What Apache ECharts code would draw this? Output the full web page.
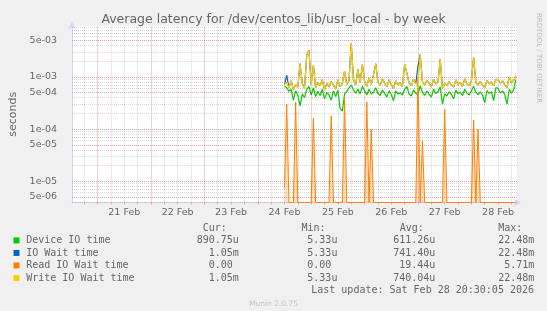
<!DOCTYPE html>
<html><head><meta charset="utf-8">
<script src="https://cdn.jsdelivr.net/npm/echarts@6/dist/echarts.min.js"></script>
<style>html,body{margin:0;padding:0;background:#F0F0F0;}#c{width:547px;height:311px;}</style>
</head><body><div id="c"></div>
<script>
// ---- data (hours counted from Feb 20 00:00) ----
const START_HOUR = 108;               // first sample: Feb 24 12:00, one sample per hour
const dayLabelHours = [36, 60, 84, 108, 132, 156, 180, 204];
const dayLabels = ['21 Feb', '22 Feb', '23 Feb', '24 Feb', '25 Feb', '26 Feb', '27 Feb', '28 Feb'];
const yLabelValues = [5e-3, 1e-3, 5e-4, 1e-4, 5e-5, 1e-5, 5e-6];
const yLabelTexts = ['5e-03', '1e-03', '5e-04', '1e-04', '5e-05', '1e-05', '5e-06'];

// values in microseconds
const deviceUs = [
 660,620,530,580,360,540,450,280,470,400,
 580,660,450,620,420,530,440,580,380,500,
 450,360,540,420,560,250,220,470,530,620,
 700,560,490,580,470,660,540,450,580,470,
 510,620,480,440,560,490,410,540,460,350,
 540,470,500,450,580,660,470,430,560,490,
 450,680,510,440,540,470,410,580,480,520,
 640,300,470,430,520,460,380,560,480,510,
 440,580,490,450,540,660,510,460,520,450,
 320,550,480,520,350,620,610,490,540,460,
 300,580,490,560,890];
const ioWaitUs = [
 708,1080,620,850,560,720,640,1800,750,600,
 2600,3300,700,1700,620,800,680,900,560,760,
 640,820,700,590,880,650,760,1300,720,850,
 4500,900,700,1400,780,1750,820,660,950,720,
 1100,1800,800,690,920,760,650,880,720,600,
 840,700,780,650,1750,1200,760,680,900,740,
 1620,2700,800,700,860,750,640,900,730,800,
 2200,600,760,680,820,700,640,880,720,790,
 660,920,740,680,850,2400,780,700,830,690,
 620,860,740,800,680,900,880,760,840,700,
 630,1000,760,860,1050];
const readUs = [
 7.5,300,0,0,0,330,0,0,0,0,
 0,0,0,160,0,0,0,0,0,0,
 0,180,0,0,0,0,0,400,0,0,
 0,0,0,0,0,0,0,330,0,100,
 0,0,0,0,0,0,0,0,0,0,
 0,0,0,0,0,0,0,0,0,0,
 1000,0,60,0,0,0,0,0,0,0,
 0,0,240,0,0,0,0,0,0,0,
 0,0,0,0,0,150,0,100,0,0,
 0,0,0,0,0,0,0,0,0,0,
 0,0,0,0,0];
const writeUs = [
 700,780,620,850,560,720,640,1800,750,600,
 2600,3300,700,1700,620,800,680,900,560,760,
 640,820,700,590,880,650,760,1300,720,850,
 4500,900,700,1400,780,1750,820,660,950,720,
 1100,1800,800,690,920,760,650,880,720,600,
 840,700,780,650,1750,1200,760,680,900,740,
 620,2700,800,700,860,750,640,900,730,800,
 2200,600,760,680,820,700,640,880,720,790,
 660,920,740,680,850,2400,780,700,830,690,
 620,860,740,800,680,900,880,760,840,700,
 630,1000,760,860,1050];

// legend table
const legendNames = ['Device IO time', 'IO Wait time', 'Read IO Wait time', 'Write IO Wait time'];
const legendColors = ['#00CC00', '#0066B3', '#FF8000', '#FFCC00'];
const curVals = ['890.75u', '1.05m', '0.00', '1.05m'];
const minVals = ['5.33u', '5.33u', '0.00', '5.33u'];
const avgVals = ['611.26u', '741.40u', '19.44u', '740.04u'];
const maxVals = ['22.48m', '22.48m', '5.71m', '22.48m'];
const lastUpdate = 'Last update: Sat Feb 28 20:30:05 2026';

// ---- chart ----
const X_MIN = 12.5, X_MAX = 212.5;
const Y_MIN = 3.9e-6, Y_MAX = 9.5e-3;
const FONT = 'DejaVu Sans', MONO = 'DejaVu Sans Mono', TXT = '#666666';
const MINOR = 'rgba(150,150,150,0.38)', MAJOR = 'rgba(230,60,60,0.5)';

function pts(arr) { return arr.map((v, i) => [START_HOUR + i, v > 0 ? v * 1e-6 : Y_MIN]); }

const majorHours = [], minorHours = [];
for (let h = 18; h <= 210; h += 6) (h % 24 === 0 ? majorHours : minorHours).push(h);
const noLabel = { show: false };
const gridLines = [];
minorHours.forEach(h => gridLines.push({ xAxis: h, label: noLabel, lineStyle: { color: MINOR, type: [1, 1], width: 1 } }));
majorHours.forEach(h => gridLines.push({ xAxis: h, label: noLabel, lineStyle: { color: MAJOR, type: [1, 1], width: 1 } }));
for (let e = -6; e <= -3; e++) {
  for (let m = 1; m <= 9; m++) {
    const v = m * Math.pow(10, e);
    if (v < Y_MIN || v > Y_MAX) continue;
    const li = yLabelValues.findIndex(x => Math.abs(x - v) / v < 1e-6);
    const major = (m === 1 || m === 5);
    gridLines.push({
      yAxis: v,
      lineStyle: { color: major ? MAJOR : MINOR, type: [1, 1], width: 1 },
      label: li >= 0 ? { show: true, position: 'start', distance: 11, padding: [0, 4, 0, 0], formatter: yLabelTexts[li],
        color: TXT, fontFamily: FONT, fontSize: 9.5 } : noLabel
    });
  }
}

const graphic = [];
graphic.push({ type: 'text', x: 273.5, y: 20, style: { text: 'Average latency for /dev/centos_lib/usr_local - by week',
  fill: TXT, font: '12.5px "DejaVu Sans"', textAlign: 'center', textVerticalAlign: 'middle' } });
graphic.push({ type: 'text', x: 539, y: 58, rotation: -Math.PI / 2, style: { text: 'RRDTOOL / TOBI OETIKER',
  fill: '#BBBBBB', font: '7px "DejaVu Sans"', textAlign: 'center', textVerticalAlign: 'middle' } });
const CW = 6.02;
const headY = 228.5, rowY0 = 240.4, rowDY = 12.55;
[['Cur:', 202.8], ['Min:', 301.4], ['Avg:', 399.7], ['Max:', 498.3]].forEach(([t, x]) =>
  graphic.push({ type: 'text', x: x, y: headY, style: { text: t, fill: TXT, font: '10px "DejaVu Sans Mono"', textAlign: 'left', textVerticalAlign: 'middle' } }));
const colRight = [238.8, 337.4, 435.3, 534.3];
legendNames.forEach((name, i) => {
  const y = rowY0 + i * rowDY;
  graphic.push({ type: 'rect', shape: { x: 13.5, y: y - 3, width: 6, height: 6 }, style: { fill: legendColors[i] } });
  graphic.push({ type: 'text', x: 26.2, y: y, style: { text: name, fill: TXT, font: '10px "DejaVu Sans Mono"', textAlign: 'left', textVerticalAlign: 'middle' } });
  [curVals[i], minVals[i], avgVals[i], maxVals[i]].forEach((s, c) => {
    const unit = /[a-zA-Z]$/.test(s);
    graphic.push({ type: 'text', x: colRight[c] - (unit ? 0 : CW), y: y, style: { text: s, fill: TXT, font: '10px "DejaVu Sans Mono"', textAlign: 'right', textVerticalAlign: 'middle' } });
  });
});
graphic.push({ type: 'text', x: 534, y: 290.4, style: { text: lastUpdate, fill: TXT, font: '10px "DejaVu Sans Mono"', textAlign: 'right', textVerticalAlign: 'middle' } });
graphic.push({ type: 'text', x: 273.5, y: 303.7, style: { text: 'Munin 2.0.75', fill: '#C4C4C4', font: '7.5px "DejaVu Sans"', textAlign: 'center', textVerticalAlign: 'middle' } });

const axisLineStyle = { color: '#CFD6F8', width: 1 };
const option = {
  animation: false,
  backgroundColor: '#F0F0F0',
  textStyle: { fontFamily: FONT },
  grid: { left: 67, right: 30, top: 26, bottom: 108.5, show: true, backgroundColor: '#FFFFFF', borderWidth: 0 },
  xAxis: [{
    type: 'value', min: X_MIN, max: X_MAX, position: 'bottom',
    axisLine: { show: true, onZero: false, lineStyle: axisLineStyle, symbol: ['none', 'arrow'], symbolSize: [6, 7], symbolOffset: [0, 4] },
    axisTick: { show: true, customValues: minorHours, length: 2, lineStyle: { color: '#BBBBBB' } },
    axisLabel: { customValues: dayLabelHours, formatter: v => dayLabels[dayLabelHours.indexOf(v)], color: TXT, fontFamily: FONT, fontSize: 9.5, margin: 5 },
    splitLine: { show: false }
  }, {
    type: 'value', min: X_MIN, max: X_MAX, position: 'bottom', offset: 0,
    axisLine: { show: false }, axisLabel: { show: false }, splitLine: { show: false },
    axisTick: { show: true, customValues: majorHours, length: 2, lineStyle: { color: '#F0A0A0' } }
  }],
  yAxis: {
    type: 'log', logBase: 10, min: Y_MIN, max: Y_MAX,
    name: 'seconds', nameLocation: 'middle', nameGap: 53,
    nameTextStyle: { color: TXT, fontFamily: FONT, fontSize: 11 },
    axisLine: { show: true, lineStyle: axisLineStyle, symbol: ['none', 'arrow'], symbolSize: [6, 7], symbolOffset: [0, 4] },
    axisTick: { show: false }, axisLabel: { show: false }, splitLine: { show: false }
  },
  graphic: graphic,
  series: [
    { type: 'line', name: 'grid', data: [], z: 1, silent: true,
      markLine: { silent: true, precision: 12, symbol: ['none', 'none'], animation: false, label: noLabel, data: gridLines } },
    { type: 'line', name: legendNames[0], data: pts(deviceUs), symbol: 'none', z: 3,
      lineStyle: { color: legendColors[0], width: 1.2 }, itemStyle: { color: legendColors[0] } },
    { type: 'line', name: legendNames[1], data: pts(ioWaitUs), symbol: 'none', z: 4,
      lineStyle: { color: legendColors[1], width: 1.2 }, itemStyle: { color: legendColors[1] } },
    { type: 'line', name: legendNames[2], data: pts(readUs), symbol: 'none', z: 5,
      lineStyle: { color: legendColors[2], width: 1 }, itemStyle: { color: legendColors[2] },
      areaStyle: { color: 'rgba(255,128,0,0.35)', origin: 'start' } },
    { type: 'line', name: legendNames[3], data: pts(writeUs), symbol: 'none', z: 6,
      lineStyle: { color: legendColors[3], width: 1.2 }, itemStyle: { color: legendColors[3] } }
  ]
};
const chart = echarts.init(document.getElementById('c'), null, { renderer: 'canvas' });
chart.setOption(option);
</script></body></html>
